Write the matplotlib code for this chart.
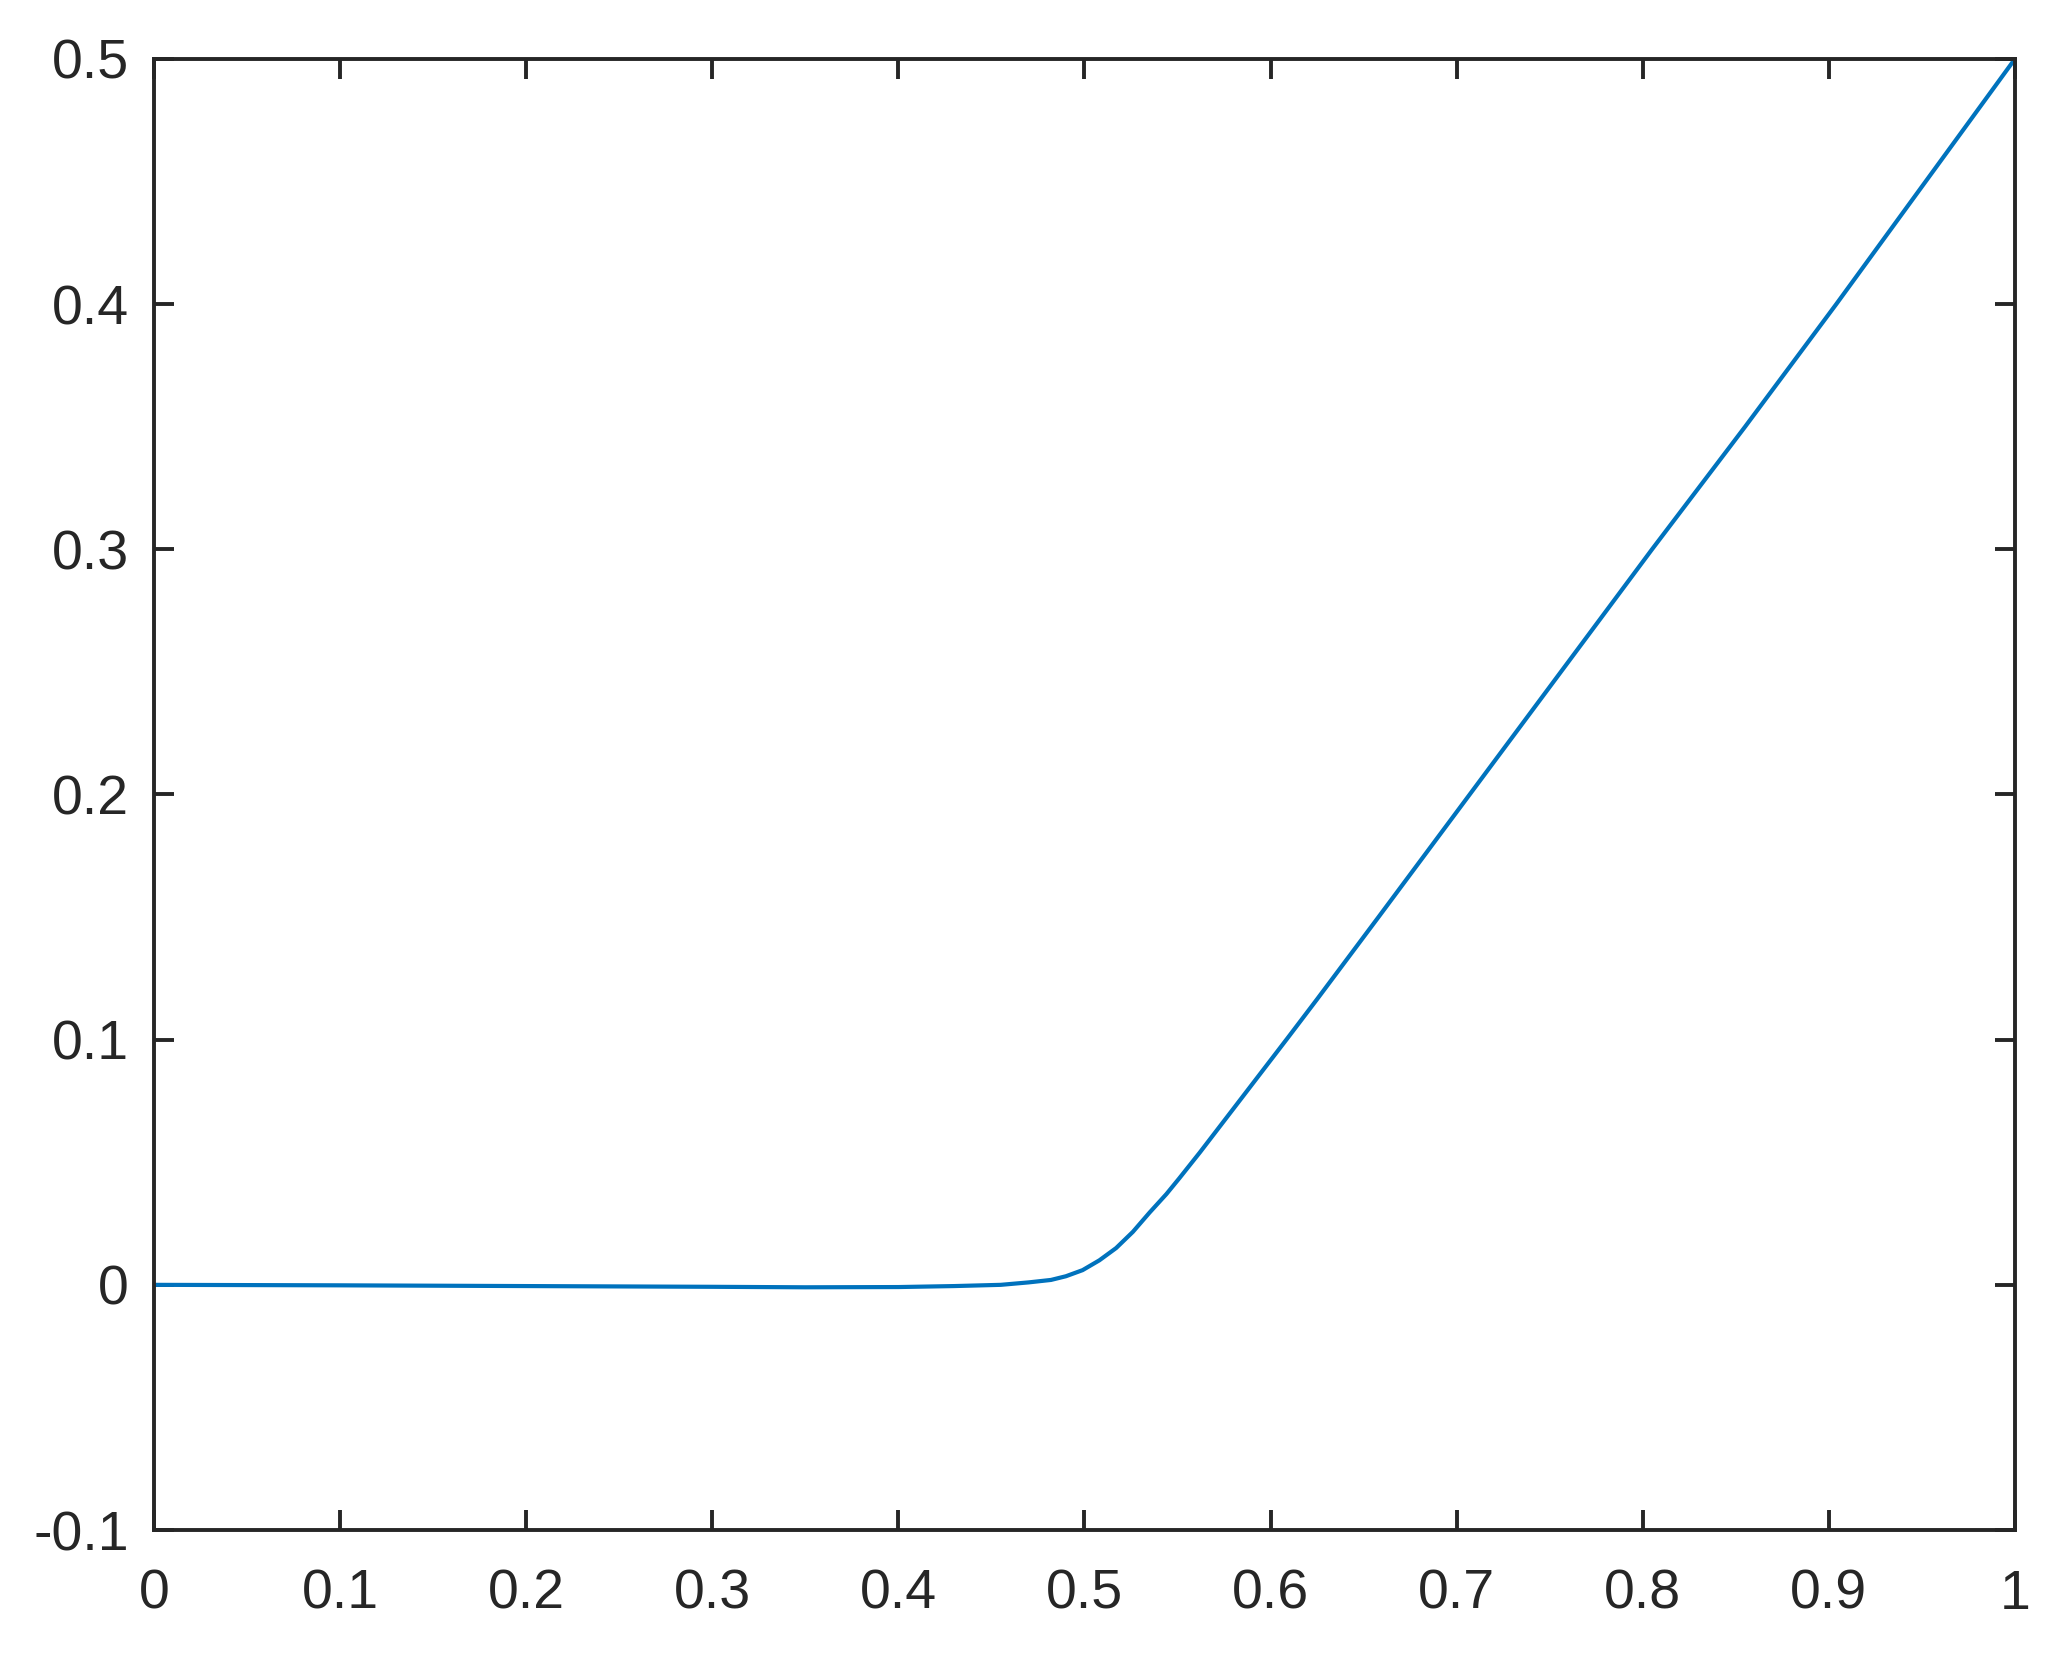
import numpy as np
import matplotlib
matplotlib.use('Agg')
import matplotlib.pyplot as plt

# curve values
x_vals = [0, 0.1, 0.2, 0.3, 0.35, 0.4, 0.43, 0.455, 0.47, 0.482, 0.49,
          0.499, 0.508, 0.517, 0.526, 0.535, 0.544, 0.551, 0.562, 0.58,
          0.609, 0.625, 0.658, 0.707, 0.756, 0.805, 0.855, 0.904, 0.952, 1.0]
y_vals = [0, -0.0002, -0.0005, -0.0008, -0.001, -0.0009, -0.0005, 0.0,
          0.001, 0.002, 0.0035, 0.006, 0.010, 0.015, 0.0216, 0.0295, 0.037,
          0.0435, 0.054, 0.0718, 0.1005, 0.1165, 0.15, 0.2, 0.25, 0.3, 0.35,
          0.4, 0.45, 0.5]

x_ticks = [0, 0.1, 0.2, 0.3, 0.4, 0.5, 0.6, 0.7, 0.8, 0.9, 1]
x_tick_labels = ['0', '0.1', '0.2', '0.3', '0.4', '0.5', '0.6', '0.7', '0.8', '0.9', '1']
y_ticks = [-0.1, 0, 0.1, 0.2, 0.3, 0.4, 0.5]
y_tick_labels = ['-0.1', '0', '0.1', '0.2', '0.3', '0.4', '0.5']

plt.rcParams['font.family'] = ['Liberation Sans', 'DejaVu Sans']
axis_color = '#262626'

fig = plt.figure(figsize=(10.295, 8.3), dpi=200)
ax = fig.add_axes([0.0748, 0.0783, 0.9038, 0.8862])

ax.plot(x_vals, y_vals, color='#0072BD', linewidth=1.5)

ax.set_xlim(0, 1)
ax.set_ylim(-0.1, 0.5)
ax.set_xticks(x_ticks)
ax.set_xticklabels(x_tick_labels)
ax.set_yticks(y_ticks)
ax.set_yticklabels(y_tick_labels)

for side in ax.spines.values():
    side.set_color(axis_color)
    side.set_linewidth(1.4)

ax.tick_params(axis='both', which='both', direction='in', length=7.2, width=1.4,
               colors=axis_color, labelsize=20, top=True, right=True)
ax.tick_params(axis='x', pad=14)
ax.tick_params(axis='y', pad=9)

fig.savefig('out.png', dpi=200)
plt.close('all')
